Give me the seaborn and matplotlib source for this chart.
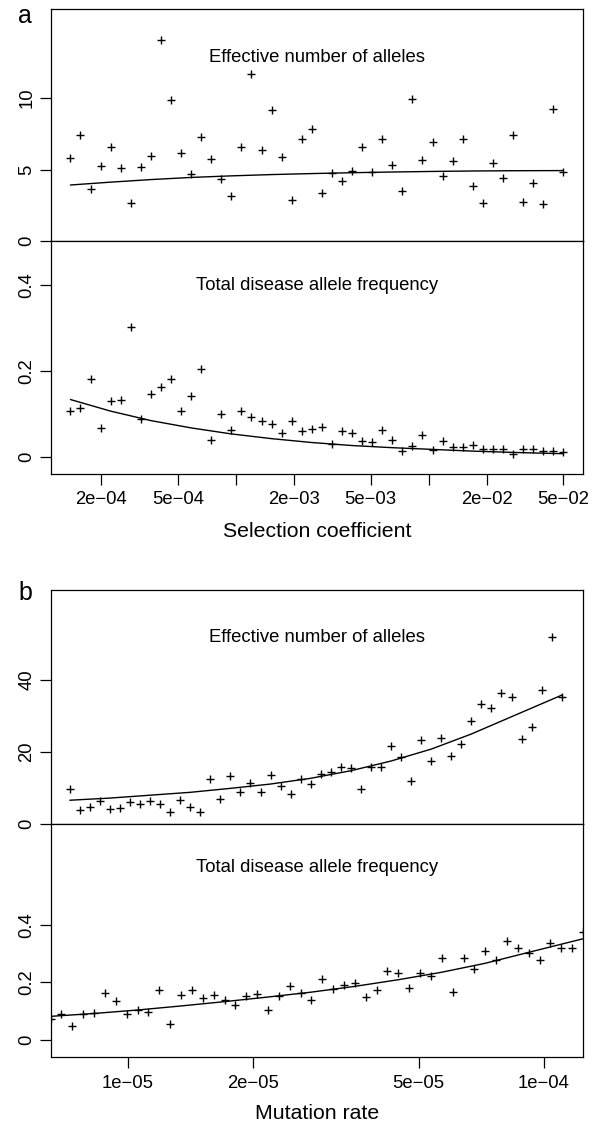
import numpy as np
import pandas as pd
import matplotlib
matplotlib.use("Agg")
import matplotlib.pyplot as plt
import seaborn as sns
from matplotlib.ticker import FixedLocator, FixedFormatter, NullLocator

# ---------------- data: panel a (selection coefficient) ----------------
sel_coef = [1.387e-4, 1.564e-4, 1.764e-4, 1.988e-4, 2.242e-4, 2.528e-4, 2.852e-4, 3.216e-4, 3.626e-4, 4.089e-4,
            4.611e-4, 5.200e-4, 5.864e-4, 6.612e-4, 7.457e-4, 8.409e-4, 9.484e-4, 1.069e-3, 1.206e-3, 1.360e-3,
            1.534e-3, 1.729e-3, 1.950e-3, 2.199e-3, 2.480e-3, 2.796e-3, 3.154e-3, 3.556e-3, 4.010e-3, 4.523e-3,
            5.100e-3, 5.751e-3, 6.485e-3, 7.313e-3, 8.247e-3, 9.300e-3, 1.049e-2, 1.183e-2, 1.334e-2, 1.504e-2,
            1.696e-2, 1.912e-2, 2.157e-2, 2.432e-2, 2.743e-2, 3.093e-2, 3.487e-2, 3.932e-2, 4.436e-2, 5.001e-2]
eff_alleles_a = [5.79, 7.45, 3.62, 5.26, 6.57, 5.12, 2.69, 5.16, 5.96, 14.09,
                 9.84, 6.19, 4.70, 7.27, 5.77, 4.37, 3.13, 6.61, 11.71, 6.38,
                 9.18, 5.91, 2.90, 7.13, 7.87, 3.36, 4.74, 4.23, 4.93, 6.57,
                 4.84, 7.15, 5.30, 3.53, 9.93, 5.65, 6.94, 4.53, 5.63, 7.13,
                 3.83, 2.69, 5.44, 4.44, 7.43, 2.73, 4.07, 2.59, 9.25, 4.81]
disease_freq_a = [0.106, 0.114, 0.181, 0.067, 0.130, 0.133, 0.301, 0.088, 0.145, 0.163,
                  0.181, 0.106, 0.141, 0.205, 0.039, 0.100, 0.062, 0.107, 0.092, 0.083,
                  0.077, 0.056, 0.084, 0.060, 0.064, 0.069, 0.029, 0.060, 0.054, 0.036,
                  0.034, 0.062, 0.039, 0.014, 0.026, 0.050, 0.016, 0.036, 0.022, 0.023,
                  0.028, 0.019, 0.019, 0.019, 0.007, 0.019, 0.019, 0.014, 0.013, 0.011]
sel_curve_x = [1.387e-4, 2.242e-4, 3.626e-4, 5.864e-4, 9.484e-4, 1.534e-3, 2.480e-3,
               4.010e-3, 6.485e-3, 1.049e-2, 1.696e-2, 2.743e-2, 5.001e-2]
eff_curve_a = [3.92, 4.12, 4.30, 4.45, 4.56, 4.65, 4.72, 4.78, 4.83, 4.87, 4.90, 4.92, 4.93]
freq_curve_a = [0.133, 0.106, 0.084, 0.067, 0.053, 0.042, 0.033, 0.026, 0.021, 0.017, 0.013, 0.010, 0.007]
sel_ticks = [2e-4, 5e-4, 1e-3, 2e-3, 5e-3, 1e-2, 2e-2, 5e-2]
sel_ticklabels = ["2e\u221204", "5e\u221204", "", "2e\u221203", "5e\u221203", "", "2e\u221202", "5e\u221202"]

# ---------------- data: panel b (mutation rate) ----------------
mut_rate_top = [7.253e-6, 7.667e-6, 8.106e-6, 8.568e-6, 9.057e-6, 9.576e-6, 1.012e-5, 1.070e-5, 1.131e-5, 1.196e-5,
                1.264e-5, 1.337e-5, 1.413e-5, 1.494e-5, 1.579e-5, 1.670e-5, 1.765e-5, 1.866e-5, 1.972e-5, 2.085e-5,
                2.204e-5, 2.330e-5, 2.464e-5, 2.605e-5, 2.754e-5, 2.911e-5, 3.077e-5, 3.253e-5, 3.439e-5, 3.636e-5,
                3.843e-5, 4.063e-5, 4.296e-5, 4.539e-5, 4.799e-5, 5.074e-5, 5.363e-5, 5.670e-5, 5.995e-5, 6.338e-5,
                6.699e-5, 7.083e-5, 7.488e-5, 7.914e-5, 8.366e-5, 8.845e-5, 9.350e-5, 9.886e-5, 1.045e-4, 1.105e-4]
eff_alleles_b = [9.63, 3.89, 4.81, 6.48, 4.07, 4.44, 6.11, 5.46, 6.39, 5.46,
                 3.33, 6.67, 4.81, 3.33, 12.50, 7.04, 13.33, 8.80, 11.39, 8.80,
                 13.52, 10.65, 8.24, 12.50, 11.11, 13.98, 14.54, 15.93, 15.46, 9.81,
                 15.74, 15.74, 21.76, 18.52, 11.85, 23.24, 17.59, 23.80, 18.98, 22.31,
                 28.52, 33.43, 32.31, 36.48, 35.28, 23.52, 26.94, 37.22, 51.85, 35.19]
mut_rate_bot = [6.524e-6, 6.928e-6, 7.357e-6, 7.813e-6, 8.299e-6, 8.813e-6, 9.359e-6, 9.938e-6, 1.056e-5, 1.121e-5,
                1.190e-5, 1.264e-5, 1.342e-5, 1.426e-5, 1.514e-5, 1.608e-5, 1.708e-5, 1.813e-5, 1.926e-5, 2.046e-5,
                2.172e-5, 2.307e-5, 2.450e-5, 2.602e-5, 2.763e-5, 2.935e-5, 3.116e-5, 3.310e-5, 3.515e-5, 3.733e-5,
                3.964e-5, 4.210e-5, 4.471e-5, 4.749e-5, 5.043e-5, 5.355e-5, 5.686e-5, 6.040e-5, 6.414e-5, 6.811e-5,
                7.233e-5, 7.681e-5, 8.157e-5, 8.664e-5, 9.201e-5, 9.770e-5, 1.038e-4, 1.102e-4, 1.170e-4, 1.243e-4]
disease_freq_b = [0.074, 0.089, 0.050, 0.090, 0.094, 0.162, 0.134, 0.089, 0.105, 0.097,
                  0.175, 0.054, 0.155, 0.173, 0.145, 0.155, 0.140, 0.120, 0.154, 0.160,
                  0.104, 0.154, 0.188, 0.164, 0.139, 0.212, 0.176, 0.190, 0.199, 0.150,
                  0.173, 0.240, 0.231, 0.182, 0.231, 0.221, 0.283, 0.166, 0.283, 0.245,
                  0.310, 0.277, 0.345, 0.319, 0.303, 0.279, 0.335, 0.320, 0.320, 0.375]
mut_curve_x_top = [7.253e-6, 9.057e-6, 1.131e-5, 1.413e-5, 1.765e-5, 2.204e-5, 2.754e-5,
                   3.439e-5, 4.296e-5, 5.363e-5, 6.699e-5, 8.366e-5, 1.105e-4]
eff_curve_b = [6.6, 7.2, 8.0, 8.8, 9.9, 11.1, 12.7, 14.8, 17.5, 20.8, 25.0, 29.8, 35.8]
mut_curve_x_bot = [6.524e-6, 8.299e-6, 1.056e-5, 1.342e-5, 1.708e-5, 2.172e-5, 2.763e-5,
                   3.515e-5, 4.471e-5, 5.686e-5, 7.233e-5, 9.201e-5, 1.243e-4]
freq_curve_b = [0.082, 0.092, 0.104, 0.118, 0.133, 0.149, 0.166, 0.186, 0.209, 0.235, 0.266, 0.304, 0.351]
mut_ticks = [1e-5, 2e-5, 5e-5, 1e-4]
mut_ticklabels = ["1e\u221205", "2e\u221205", "5e\u221205", "1e\u221204"]

# ---------------- style ----------------
sns.set_theme(style="white")
plt.rcParams["font.family"] = ["Liberation Sans", "DejaVu Sans"]
plt.rcParams["axes.edgecolor"] = "black"
plt.rcParams["axes.linewidth"] = 0.9
plt.rcParams["text.color"] = "black"
plt.rcParams["axes.labelcolor"] = "black"
plt.rcParams["xtick.color"] = "black"
plt.rcParams["ytick.color"] = "black"

W, H = 600, 1124
fig = plt.figure(figsize=(W / 100, H / 100), dpi=100)

LEFT, RIGHT = 50.7, 583.0


def add_ax(top_px, bottom_px):
    return fig.add_axes([LEFT / W, 1 - bottom_px / H, (RIGHT - LEFT) / W, (bottom_px - top_px) / H])


def style_ax(ax, yticks, yticklabels, xlim, xticks=None, xticklabels=None):
    ax.set_xscale("log")
    ax.set_xlim(*xlim)
    ax.xaxis.set_minor_locator(NullLocator())
    ax.yaxis.set_minor_locator(NullLocator())
    ax.set_yticks(yticks)
    ax.set_yticklabels(yticklabels, rotation=90, va="center", color="black")
    ax.tick_params(axis="y", direction="out", length=8, width=0.9, pad=3,
                   labelsize=13.3, left=True, colors="black")
    if xticks is None:
        ax.xaxis.set_major_locator(NullLocator())
        ax.tick_params(axis="x", bottom=False, labelbottom=False)
    else:
        ax.xaxis.set_major_locator(FixedLocator(xticks))
        ax.xaxis.set_major_formatter(FixedFormatter(xticklabels))
        ax.tick_params(axis="x", direction="out", length=8, width=0.9, pad=4.5,
                       labelsize=13.3, bottom=True, colors="black")
    ax.set_ylabel("")
    ax.set_xlabel("")
    for sp in ax.spines.values():
        sp.set_color("black")
        sp.set_linewidth(0.9)
    ax.grid(False)


def draw(ax, x, y, cx, cy):
    df = pd.DataFrame({"x": x, "y": y})
    cdf = pd.DataFrame({"x": cx, "y": cy})
    sns.scatterplot(data=df, x="x", y="y", marker="+", s=40, color="black",
                    linewidth=1.0, ax=ax, legend=False, zorder=3)
    sns.lineplot(data=cdf, x="x", y="y", color="black", linewidth=1.0,
                 estimator=None, sort=True, ax=ax, legend=False)


xlim_a = (1.096e-4, 6.33e-2)
xlim_b = (6.526e-6, 1.2427e-4)

# Panel a
ax_a1 = add_ax(9.3, 241.0)
ax_a2 = add_ax(241.0, 473.7)
draw(ax_a1, sel_coef, eff_alleles_a, sel_curve_x, eff_curve_a)
draw(ax_a2, sel_coef, disease_freq_a, sel_curve_x, freq_curve_a)
ax_a1.set_ylim(0, 16.22)
ax_a2.set_ylim(-0.0395, 0.5016)
style_ax(ax_a1, [0, 5, 10], ["0", "5", "10"], xlim_a)
style_ax(ax_a2, [0, 0.2, 0.4], ["0", "0.2", "0.4"], xlim_a, sel_ticks, sel_ticklabels)
ax_a1.text(0.5, 0.774, "Effective number of alleles", transform=ax_a1.transAxes,
           ha="center", va="baseline", fontsize=13.3, color="black")
ax_a2.text(0.5, 0.789, "Total disease allele frequency", transform=ax_a2.transAxes,
           ha="center", va="baseline", fontsize=13.3, color="black")
ax_a2.set_xlabel("Selection coefficient", fontsize=15.3, labelpad=10, color="black")

# Panel b
ax_b1 = add_ax(590.0, 824.0)
ax_b2 = add_ax(824.0, 1057.3)
draw(ax_b1, mut_rate_top, eff_alleles_b, mut_curve_x_top, eff_curve_b)
draw(ax_b2, mut_rate_bot, disease_freq_b, mut_curve_x_bot, freq_curve_b)
ax_b1.set_ylim(0, 65.0)
ax_b2.set_ylim(-0.060, 0.749)
style_ax(ax_b1, [0, 20, 40], ["0", "20", "40"], xlim_b)
style_ax(ax_b2, [0, 0.2, 0.4], ["0", "0.2", "0.4"], xlim_b, mut_ticks, mut_ticklabels)
ax_b1.text(0.5, 0.777, "Effective number of alleles", transform=ax_b1.transAxes,
           ha="center", va="baseline", fontsize=13.3, color="black")
ax_b2.text(0.5, 0.796, "Total disease allele frequency", transform=ax_b2.transAxes,
           ha="center", va="baseline", fontsize=13.3, color="black")
ax_b2.set_xlabel("Mutation rate", fontsize=15.3, labelpad=9, color="black")

# panel letters
fig.text(18 / W, 1 - 23 / H, "a", fontsize=18, ha="left", va="baseline", color="black")
fig.text(18 / W, 1 - 600 / H, "b", fontsize=18, ha="left", va="baseline", color="black")

fig.savefig("out.png", dpi=100)
